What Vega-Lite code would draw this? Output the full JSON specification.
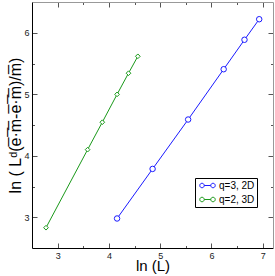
{
  "$schema": "https://vega.github.io/schema/vega-lite/v6.json",
  "width": 241,
  "height": 246,
  "autosize": {"type": "none"},
  "padding": {"left": 32, "top": 2, "right": 2, "bottom": 28},
  "background": "white",
  "config": {
    "view": {"stroke": null},
    "font": "Liberation Sans",
    "axis": {"grid": false, "labelFont": "Liberation Sans", "titleFont": "Liberation Sans", "labelFontSize": 9, "labelColor": "#222", "titleFontSize": 16, "titleFontWeight": "normal", "titleColor": "#000", "tickColor": "#555", "domainWidth": 1}
  },
  "data": {"values": [
    {"series": "q=3, 2D", "lnL": 4.159, "lnY": 2.98},
    {"series": "q=3, 2D", "lnL": 4.852, "lnY": 3.786},
    {"series": "q=3, 2D", "lnL": 5.545, "lnY": 4.589},
    {"series": "q=3, 2D", "lnL": 6.238, "lnY": 5.407},
    {"series": "q=3, 2D", "lnL": 6.644, "lnY": 5.886},
    {"series": "q=3, 2D", "lnL": 6.931, "lnY": 6.22},
    {"series": "q=2, 3D", "lnL": 2.773, "lnY": 2.83},
    {"series": "q=2, 3D", "lnL": 3.584, "lnY": 4.099},
    {"series": "q=2, 3D", "lnL": 3.871, "lnY": 4.545},
    {"series": "q=2, 3D", "lnL": 4.159, "lnY": 4.998},
    {"series": "q=2, 3D", "lnL": 4.382, "lnY": 5.342},
    {"series": "q=2, 3D", "lnL": 4.564, "lnY": 5.617}
  ]},
  "resolve": {"axis": {"x": "independent", "y": "independent"}},
  "layer": [
    {
      "mark": {"type": "line", "strokeWidth": 1},
      "encoding": {
        "x": {"field": "lnL", "type": "quantitative", "scale": {"domain": [2.5, 7.2], "nice": false, "zero": false},
          "axis": {"orient": "bottom", "title": "ln (L)", "titleFontSize": 15, "values": [3, 3.5, 4, 4.5, 5, 5.5, 6, 6.5, 7], "labelExpr": "datum.value % 1 === 0 ? format(datum.value, 'd') : ''", "tickSize": {"condition": {"test": "datum.value % 1 !== 0", "value": -2.5}, "value": -5}, "labelPadding": 8, "domainColor": "#000", "titlePadding": -2}},
        "y": {"field": "lnY", "type": "quantitative", "scale": {"domain": [2.5, 6.5], "nice": false, "zero": false},
          "axis": {"orient": "left", "title": "ln ( Lᵈ(e̅·̅m̅-e̅·̅m̅)/m̅)", "values": [3, 3.5, 4, 4.5, 5, 5.5, 6], "labelExpr": "datum.value % 1 === 0 ? format(datum.value, 'd') : ''", "tickSize": {"condition": {"test": "datum.value % 1 !== 0", "value": -2.5}, "value": -5}, "labelPadding": 8, "domainColor": "#000", "titlePadding": 0}},
        "color": {"field": "series", "type": "nominal", "scale": {"domain": ["q=3, 2D", "q=2, 3D"], "range": ["#1a1aff", "#1a991a"]},
          "legend": {"title": null, "orient": "none", "legendX": 163, "legendY": 176, "padding": 2, "strokeColor": "#000", "fillColor": "#fff", "cornerRadius": 0, "labelFont": "Liberation Sans", "labelFontSize": 10, "labelColor": "#000", "symbolSize": 100, "symbolStrokeWidth": 1, "symbolFillColor": "transparent", "symbolType": "M-0.55,0 a0.45,0.45 0 1,0 0.9,0 a0.45,0.45 0 1,0 -0.9,0 M0.35,0 L1.65,0 M1.65,0 a0.45,0.45 0 1,0 0.9,0 a0.45,0.45 0 1,0 -0.9,0", "labelOffset": 11, "rowPadding": 3}}
      }
    },
    {
      "transform": [{"filter": "datum.series === 'q=3, 2D'"}],
      "mark": {"type": "point", "shape": "circle", "size": 30, "filled": false, "fill": "white", "fillOpacity": 1, "color": "#1a1aff", "strokeWidth": 1, "opacity": 1},
      "encoding": {
        "x": {"field": "lnL", "type": "quantitative", "axis": null},
        "y": {"field": "lnY", "type": "quantitative", "axis": null}
      }
    },
    {
      "transform": [{"filter": "datum.series === 'q=2, 3D'"}],
      "mark": {"type": "point", "shape": "diamond", "size": 22, "filled": false, "fill": "white", "fillOpacity": 1, "color": "#1a991a", "strokeWidth": 1, "opacity": 1},
      "encoding": {
        "x": {"field": "lnL", "type": "quantitative", "axis": null},
        "y": {"field": "lnY", "type": "quantitative", "axis": null}
      }
    },
    {
      "mark": {"type": "point", "opacity": 0},
      "encoding": {
        "x": {"field": "lnL", "type": "quantitative",
          "axis": {"orient": "top", "title": null, "values": [3, 3.5, 4, 4.5, 5, 5.5, 6, 6.5, 7], "labels": false, "tickSize": {"condition": {"test": "datum.value % 1 !== 0", "value": -2.5}, "value": -5}, "domainColor": "#999"}},
        "y": {"field": "lnY", "type": "quantitative",
          "axis": {"orient": "right", "title": null, "values": [3, 3.5, 4, 4.5, 5, 5.5, 6], "labels": false, "tickSize": {"condition": {"test": "datum.value % 1 !== 0", "value": -2.5}, "value": -5}, "domainColor": "#999"}}
      }
    }
  ]
}
